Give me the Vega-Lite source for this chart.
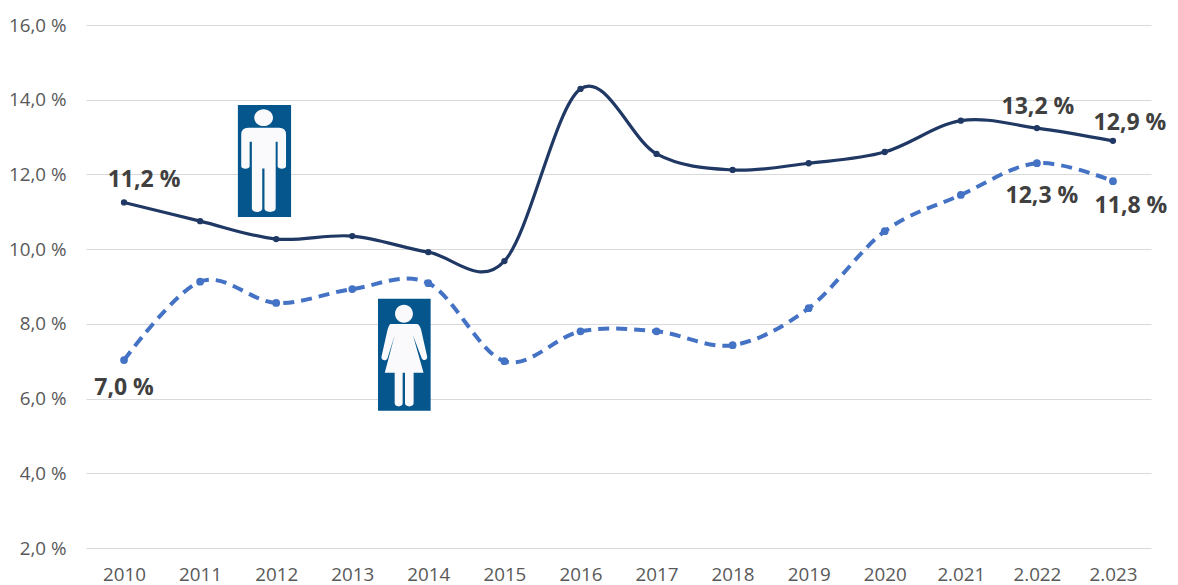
{"$schema":"https://vega.github.io/schema/vega-lite/v6.json","width":1065,"height":523,"autosize":{"type":"none"},"padding":{"left":86,"top":25,"right":27,"bottom":37},"background":"white","config":{"view":{"stroke":null},"font":"Open Sans"},
"datasets":{"men":[{"year":"2010","value":11.25,"label":"11,2 %"},{"year":"2011","value":10.75},{"year":"2012","value":10.27},{"year":"2013","value":10.35},{"year":"2014","value":9.92},{"year":"2015","value":9.68},{"year":"2016","value":14.29},{"year":"2017","value":12.55},{"year":"2018","value":12.12},{"year":"2019","value":12.3},{"year":"2020","value":12.6},{"year":"2.021","value":13.44},{"year":"2.022","value":13.24,"label":"13,2 %"},{"year":"2.023","value":12.9,"label":"12,9 %"}],
"women":[{"year":"2010","value":7.03,"label":"7,0 %"},{"year":"2011","value":9.13},{"year":"2012","value":8.56},{"year":"2013","value":8.93},{"year":"2014","value":9.09},{"year":"2015","value":7.0},{"year":"2016","value":7.8},{"year":"2017","value":7.8},{"year":"2018","value":7.43},{"year":"2019","value":8.42},{"year":"2020","value":10.48},{"year":"2.021","value":11.45},{"year":"2.022","value":12.3,"label":"12,3 %"},{"year":"2.023","value":11.82,"label":"11,8 %"}],
"manIcon":[{"year":"2012","value":12.36}],"womanIcon":[{"year":"2014","value":7.17}]},
"encoding":{"x":{"field":"year","type":"ordinal","sort":null,"scale":{"domain":["2010","2011","2012","2013","2014","2015","2016","2017","2018","2019","2020","2.021","2.022","2.023"],"paddingInner":0,"paddingOuter":0},"axis":{"title":null,"labelAngle":0,"domain":false,"ticks":false,"labelFontSize":18.8,"labelColor":"#595959","labelPadding":17,"labelFont":"Open Sans"}},
"y":{"field":"value","type":"quantitative","scale":{"domain":[2,16],"nice":false,"zero":false},"axis":{"title":null,"values":[2,4,6,8,10,12,14,16],"labelExpr":"replace(format(datum.value,'.1f'),'.',',')+' %'","domain":false,"ticks":false,"gridColor":"#d9d9d9","gridWidth":1,"labelFontSize":18.8,"labelColor":"#595959","labelPadding":20,"labelFont":"Open Sans"}}},
"layer":[
{"data":{"name":"men"},"mark":{"type":"line","interpolate":"cardinal","tension":0,"color":"#203864","strokeWidth":3.2}},
{"data":{"name":"men"},"mark":{"type":"point","filled":true,"opacity":1,"size":40,"color":"#203864"}},
{"data":{"name":"women"},"mark":{"type":"line","interpolate":"cardinal","tension":0,"color":"#4472C4","strokeWidth":4,"strokeDash":[11,7]}},
{"data":{"name":"women"},"mark":{"type":"point","filled":true,"opacity":1,"size":60,"color":"#4472C4"}},
{"data":{"name":"manIcon"},"mark":{"type":"point","filled":true,"opacity":1,"size":12544,"xOffset":-11.7,"color":"#05568C","shape":"M-.475,-1H.475V1H-.475Z"}},
{"data":{"name":"manIcon"},"mark":{"type":"point","filled":true,"opacity":1,"size":12544,"xOffset":-11.7,"color":"#FAFAFD","shape":"M-.29,-.594H.26Q.385,-.594 .385,-.47V.10A.075,.04 0 0 1 .235,.10V-.343H.20V.85A.1,.06 0 0 1 .0,.85V.134H-.04V.85A.09,.06 0 0 1 -.225,.85V-.343H-.265V.10A.075,.04 0 0 1 -.415,.10V-.47Q-.415,-.594 -.29,-.594ZM-.182,-.773A.167,.15 0 1 0 .152,-.773A.167,.15 0 1 0 -.182,-.773Z"}},
{"data":{"name":"womanIcon"},"mark":{"type":"point","filled":true,"opacity":1,"size":12544,"xOffset":-24,"color":"#05568C","shape":"M-.47,-1H.47V1H-.47Z"}},
{"data":{"name":"womanIcon"},"mark":{"type":"point","filled":true,"opacity":1,"size":12544,"xOffset":-24,"color":"#FAFAFD","shape":"M-.24,-.55H.22Q.27,-.55 .30,-.45L.405,.02A.05,.05 0 0 1 .31,.06L.154,-.35L.343,.32H.166V.87A.077,.05 0 0 1 .012,.87V.32H-.03V.87A.071,.05 0 0 1 -.172,.87V.32H-.349L-.172,-.35L-.30,.06A.05,.05 0 0 1 -.405,.02L-.30,-.45Q-.27,-.55 -.24,-.55ZM-.166,-.733A.16,.16 0 1 0 .154,-.733A.16,.16 0 1 0 -.166,-.733Z"}},
{"data":{"name":"men"},"transform":[{"filter":"datum.year==='2010'"}],"mark":{"type":"text","fontWeight":"bold","fontSize":23,"color":"#404040","dx":20,"dy":-22},"encoding":{"text":{"field":"label"}}},
{"data":{"name":"men"},"transform":[{"filter":"datum.year==='2.022'"}],"mark":{"type":"text","fontWeight":"bold","fontSize":23,"color":"#404040","dx":1,"dy":-21},"encoding":{"text":{"field":"label"}}},
{"data":{"name":"men"},"transform":[{"filter":"datum.year==='2.023'"}],"mark":{"type":"text","fontWeight":"bold","fontSize":23,"color":"#404040","dx":17,"dy":-18},"encoding":{"text":{"field":"label"}}},
{"data":{"name":"women"},"transform":[{"filter":"datum.year==='2010'"}],"mark":{"type":"text","fontWeight":"bold","fontSize":23,"color":"#404040","dx":0,"dy":28},"encoding":{"text":{"field":"label"}}},
{"data":{"name":"women"},"transform":[{"filter":"datum.year==='2.022'"}],"mark":{"type":"text","fontWeight":"bold","fontSize":23,"color":"#404040","dx":5,"dy":33},"encoding":{"text":{"field":"label"}}},
{"data":{"name":"women"},"transform":[{"filter":"datum.year==='2.023'"}],"mark":{"type":"text","fontWeight":"bold","fontSize":23,"color":"#404040","dx":18,"dy":25},"encoding":{"text":{"field":"label"}}}
]}
